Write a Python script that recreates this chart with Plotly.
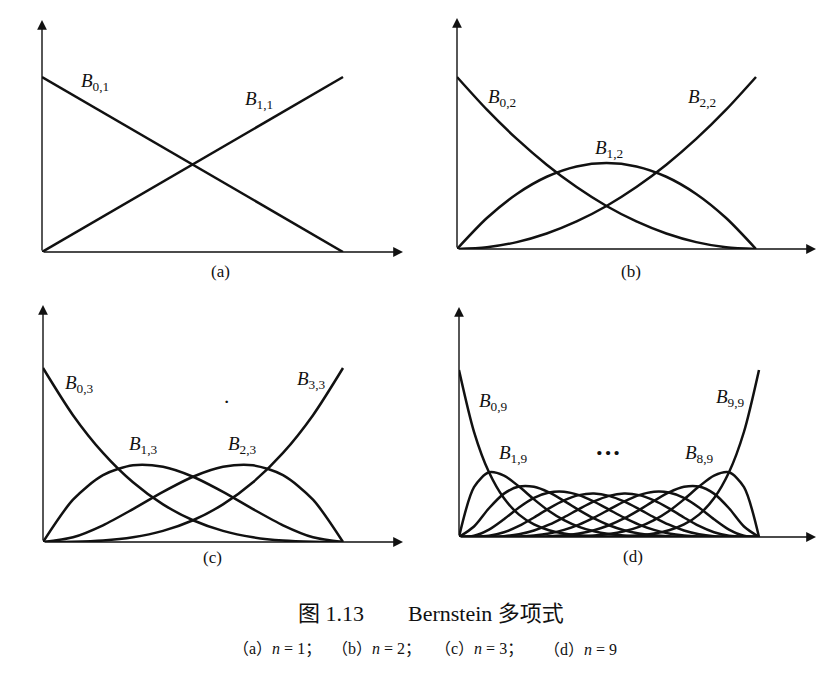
import plotly.graph_objects as go

# ---------------- data ----------------
t_lin = [0.0, 1.0]
B01 = [1.0, 0.0]
B11 = [0.0, 1.0]

t10 = [0.0, 0.1, 0.2, 0.3, 0.4, 0.5, 0.6, 0.7, 0.8, 0.9, 1.0]
B02 = [1.0, 0.81, 0.64, 0.49, 0.36, 0.25, 0.16, 0.09, 0.04, 0.01, 0.0]
B12 = [0.0, 0.18, 0.32, 0.42, 0.48, 0.50, 0.48, 0.42, 0.32, 0.18, 0.0]
B22 = [0.0, 0.01, 0.04, 0.09, 0.16, 0.25, 0.36, 0.49, 0.64, 0.81, 1.0]

B03 = [1.0, 0.729, 0.512, 0.343, 0.216, 0.125, 0.064, 0.027, 0.008, 0.001, 0.0]
B13 = [0.0, 0.243, 0.384, 0.441, 0.432, 0.375, 0.288, 0.189, 0.096, 0.027, 0.0]
B23 = [0.0, 0.027, 0.096, 0.189, 0.288, 0.375, 0.432, 0.441, 0.384, 0.243, 0.0]
B33 = [0.0, 0.001, 0.008, 0.027, 0.064, 0.125, 0.216, 0.343, 0.512, 0.729, 1.0]

t20 = [0.0, 0.05, 0.10, 0.15, 0.20, 0.25, 0.30, 0.35, 0.40, 0.45, 0.50,
       0.55, 0.60, 0.65, 0.70, 0.75, 0.80, 0.85, 0.90, 0.95, 1.0]
B09 = [1.0, 0.6302, 0.3874, 0.2316, 0.1342, 0.0751, 0.0404, 0.0207, 0.0101, 0.0046, 0.0020,
       0.0008, 0.0003, 0.0001, 0, 0, 0, 0, 0, 0, 0]
B19 = [0, 0.2985, 0.3874, 0.3679, 0.3020, 0.2253, 0.1556, 0.1004, 0.0605, 0.0339, 0.0176,
       0.0083, 0.0035, 0.0013, 0.0004, 0.0001, 0, 0, 0, 0, 0]
B29 = [0, 0.0629, 0.1722, 0.2597, 0.3020, 0.3003, 0.2668, 0.2162, 0.1612, 0.1110, 0.0703,
       0.0407, 0.0212, 0.0098, 0.0039, 0.0012, 0.0003, 0, 0, 0, 0]
B39 = [0, 0.0077, 0.0446, 0.1069, 0.1762, 0.2336, 0.2668, 0.2716, 0.2508, 0.2119, 0.1641,
       0.1160, 0.0743, 0.0424, 0.0210, 0.0087, 0.0028, 0.0006, 0.0001, 0, 0]
B49 = [0, 0.0006, 0.0074, 0.0283, 0.0661, 0.1168, 0.1715, 0.2194, 0.2508, 0.2600, 0.2461,
       0.2128, 0.1672, 0.1181, 0.0735, 0.0389, 0.0165, 0.0050, 0.0008, 0, 0]
B59 = [0, 0, 0.0008, 0.0050, 0.0165, 0.0389, 0.0735, 0.1181, 0.1672, 0.2128, 0.2461,
       0.2600, 0.2508, 0.2194, 0.1715, 0.1168, 0.0661, 0.0283, 0.0074, 0.0006, 0]
B69 = [0, 0, 0.0001, 0.0006, 0.0028, 0.0087, 0.0210, 0.0424, 0.0743, 0.1160, 0.1641,
       0.2119, 0.2508, 0.2716, 0.2668, 0.2336, 0.1762, 0.1069, 0.0446, 0.0077, 0]
B79 = [0, 0, 0, 0, 0.0003, 0.0012, 0.0039, 0.0098, 0.0212, 0.0407, 0.0703,
       0.1110, 0.1612, 0.2162, 0.2668, 0.3003, 0.3020, 0.2597, 0.1722, 0.0629, 0]
B89 = [0, 0, 0, 0, 0, 0.0001, 0.0004, 0.0013, 0.0035, 0.0083, 0.0176,
       0.0339, 0.0605, 0.1004, 0.1556, 0.2253, 0.3020, 0.3679, 0.3874, 0.2985, 0]
B99 = [0, 0, 0, 0, 0, 0, 0, 0.0001, 0.0003, 0.0008, 0.0020,
       0.0046, 0.0101, 0.0207, 0.0404, 0.0751, 0.1342, 0.2316, 0.3874, 0.6302, 1.0]

panel_series = [
    (t_lin, [B01, B11]),
    (t10, [B02, B12, B22]),
    (t10, [B03, B13, B23, B33]),
    (t20, [B09, B19, B29, B39, B49, B59, B69, B79, B89, B99]),
]

# curve labels: (panel, text, x, y)
curve_labels = [
    (0, "<i>B</i><sub>0,1</sub>", 0.175, 0.97),
    (0, "<i>B</i><sub>1,1</sub>", 0.72, 0.87),
    (1, "<i>B</i><sub>0,2</sub>", 0.15, 0.88),
    (1, "<i>B</i><sub>1,2</sub>", 0.51, 0.58),
    (1, "<i>B</i><sub>2,2</sub>", 0.82, 0.88),
    (2, "<i>B</i><sub>0,3</sub>", 0.12, 0.91),
    (2, "<i>B</i><sub>1,3</sub>", 0.335, 0.56),
    (2, "<i>B</i><sub>2,3</sub>", 0.665, 0.56),
    (2, "<i>B</i><sub>3,3</sub>", 0.895, 0.93),
    (3, "<i>B</i><sub>0,9</sub>", 0.115, 0.81),
    (3, "<i>B</i><sub>1,9</sub>", 0.18, 0.50),
    (3, "<i>B</i><sub>8,9</sub>", 0.80, 0.50),
    (3, "<i>B</i><sub>9,9</sub>", 0.905, 0.83),
]
ellipsis = (3, "···", 0.497, 0.505)
panel_names = ["(a)", "(b)", "(c)", "(d)"]
panel_name_px = [(220, 271), (631, 271), (213, 557), (633, 556)]
caption_parts = [("图 1.13", 331, 22), ("Bernstein 多项式", 486, 22)]
subcaption_parts = [("（a）<i>n</i> = 1；", 277), ("（b）<i>n</i> = 2；", 376),
                    ("（c）<i>n</i> = 3；", 479), ("（d）<i>n</i> = 9", 580)]

# ---------------- layout geometry (pixels) ----------------
W, H = 832, 677
# (y-axis x px, x-arrow end px, x-axis y px, top arrow y px, px per unit x, px per unit y)
geo = [
    (42, 403, 252, 20, 301, 175),
    (457, 816, 249, 18, 299, 172),
    (43, 403, 542, 305, 300, 174),
    (459, 816, 537, 307, 300, 167),
]

fig = go.Figure()
layout = dict(
    width=W, height=H, margin=dict(l=0, r=0, t=0, b=0),
    paper_bgcolor="white", plot_bgcolor="white", showlegend=False,
)
annotations = []
serif = "Liberation Serif, DejaVu Serif, serif"
cjk = "Liberation Serif, Noto Sans CJK SC"
ink = "#111111"


def paper_text(txt, px, py, size, family):
    return dict(
        x=px / W, y=(H - py) / H, xref="paper", yref="paper", text=txt,
        xanchor="center", yanchor="middle", showarrow=False,
        font=dict(family=family, size=size, color=ink),
    )


for i, (xs, ys_list) in enumerate(panel_series):
    x0, x1, y0, y1, sx, sy = geo[i]
    xmax = (x1 - x0) / sx
    ymax = (y0 - y1) / sy
    sfx = "" if i == 0 else str(i + 1)
    layout["xaxis" + sfx] = dict(
        domain=[x0 / W, x1 / W], range=[0, xmax], visible=False,
        anchor="y" + sfx, fixedrange=True,
    )
    layout["yaxis" + sfx] = dict(
        domain=[(H - y0) / H, (H - y1) / H], range=[0, ymax], visible=False,
        anchor="x" + sfx, fixedrange=True,
    )
    for ys in ys_list:
        fig.add_trace(go.Scatter(
            x=xs, y=ys, mode="lines",
            line=dict(color=ink, width=2.5, shape="spline", smoothing=0.8),
            xaxis="x" + sfx, yaxis="y" + sfx, cliponaxis=False, hoverinfo="skip",
        ))
    # axes as arrows
    for (tx, ty) in [(xmax, 0), (0, ymax)]:
        annotations.append(dict(
            x=tx, y=ty, ax=0, ay=0, xref="x" + sfx, yref="y" + sfx,
            axref="x" + sfx, ayref="y" + sfx, showarrow=True, arrowhead=2,
            arrowsize=1.4, arrowwidth=1.4, arrowcolor=ink, text="",
        ))
    px, py = panel_name_px[i]
    annotations.append(paper_text(panel_names[i], px, py, 17, serif))

for p, txt, x, y in curve_labels:
    sfx = "" if p == 0 else str(p + 1)
    annotations.append(dict(
        x=x, y=y, xref="x" + sfx, yref="y" + sfx, text=txt, showarrow=False,
        xanchor="center", yanchor="middle",
        font=dict(family=serif, size=19, color=ink),
    ))
p, txt, x, y = ellipsis
annotations.append(dict(
    x=x, y=y, xref="x4", yref="y4", text="<b>" + txt + "</b>", showarrow=False,
    xanchor="center", yanchor="middle",
    font=dict(family=serif, size=26, color=ink),
))

# stray scan dot in panel (c)
annotations.append(dict(
    x=0.613, y=0.81, xref="x3", yref="y3", text="·", showarrow=False,
    xanchor="center", yanchor="middle",
    font=dict(family=serif, size=22, color=ink),
))

for txt, cx, sz in caption_parts:
    annotations.append(paper_text(txt, cx, 613, sz, cjk))
for txt, cx in subcaption_parts:
    annotations.append(paper_text(txt, cx, 649, 16, cjk))

layout["annotations"] = annotations
fig.update_layout(**layout)
fig.write_html("out.html")
